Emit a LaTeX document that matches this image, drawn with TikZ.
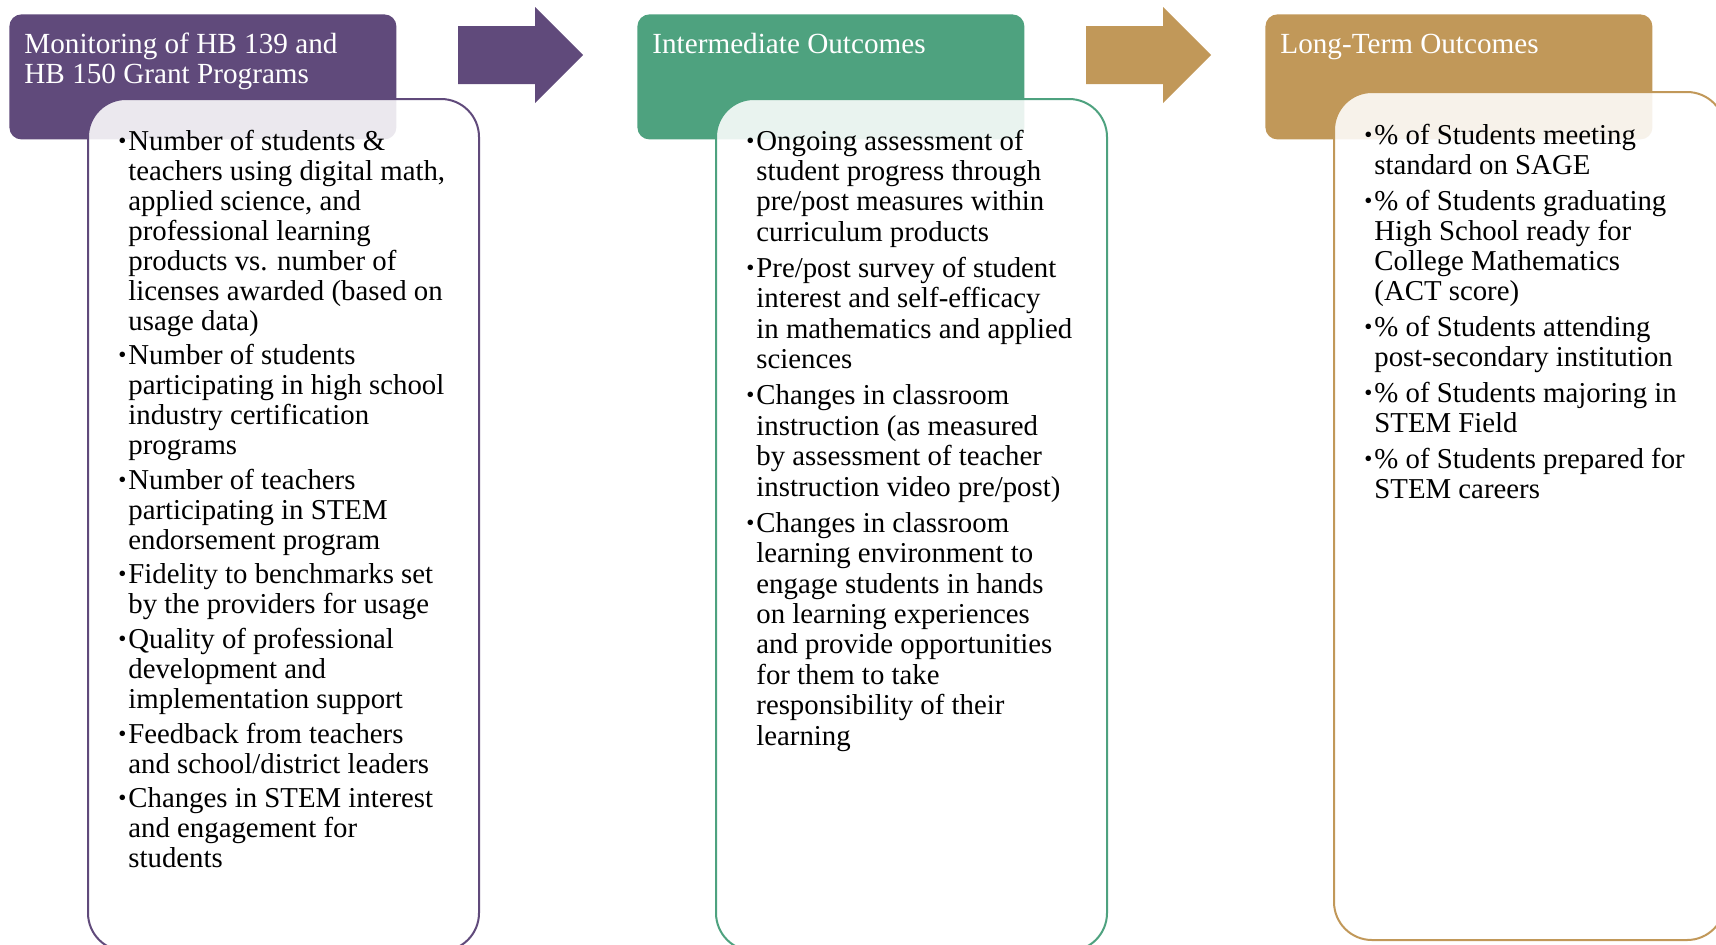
\documentclass[tikz,border=0pt]{standalone}
\usepackage{fontspec}
\setmainfont{Liberation Serif}
\usepackage{graphicx}
\usepackage{tikz}

\definecolor{hbpurple}{HTML}{604A7B}
\definecolor{hbgreen}{HTML}{4EA27F}
\definecolor{hbgold}{HTML}{C19859}

\tikzset{
  hdbox/.style={rectangle, rounded corners=6pt, fill=#1, minimum width=193.5pt,
    minimum height=62.5pt, anchor=north west, inner sep=0pt},
  bdbox/.style={rectangle, rounded corners=19pt, draw=#1, line width=1pt, fill=white,
    fill opacity=0.88, minimum width=195.5pt, minimum height=426pt, anchor=north west, inner sep=0pt},
  hdtext/.style={anchor=base west, inner sep=0pt, text=white, font=\fontsize{14.6}{15}\selectfont},
  listtext/.style={anchor=base west, inner sep=0pt, font=\fontsize{14.4}{15}\selectfont}
}
\newcommand{\bul}{\makebox[5pt][l]{\raisebox{1pt}{\scalebox{0.8}{\textbullet}}}}

\begin{document}
\begin{tikzpicture}[x=0.5pt,y=-0.5pt]
\useasboundingbox (0,0) rectangle (1716,944);

% header boxes
\node[hdbox=hbpurple] (h1) at (9,14) {};
\node[hdbox=hbgreen] (h2) at (637,14) {};
\node[hdbox=hbgold] (h3) at (1265,14) {};

\node[hdtext] (ht1) at (24,53) {\begin{tabular}[t]{@{}l@{}}
Monitoring of HB 139 and\\
HB 150 Grant Programs
\end{tabular}};
\node[hdtext] (ht2) at (652,53) {Intermediate Outcomes};
\node[hdtext] (ht3) at (1280,53) {Long-Term Outcomes};

% arrows
\foreach \x/\c in {458/hbpurple,1086/hbgold}
  \fill[\c] (\x,26) -- ++(77,0) -- ++(0,-19) -- ++(48,48) -- ++(-48,48) -- ++(0,-19) -- ++(-77,0) -- cycle;

% bodies
\node[bdbox=hbpurple] (b1) at (87,98) {};
\node[bdbox=hbgreen] (b2) at (715,98) {};
\node[bdbox=hbgold, minimum height=424pt] (b3) at (1333,91) {};

\node[listtext] (l1) at (118,150) {\begin{tabular}[t]{@{}l@{}l@{}}
\bul & Number of students \& \\
 & teachers using digital math, \\
 & applied science, and \\
 & professional learning \\
 & products vs. number of \\
 & licenses awarded (based on \\
 & usage data) \\[2.3pt]
\bul & Number of students \\
 & participating in high school \\
 & industry certification \\
 & programs \\[2.3pt]
\bul & Number of teachers \\
 & participating in STEM \\
 & endorsement program \\[2.3pt]
\bul & Fidelity to benchmarks set \\
 & by the providers for usage \\[2.3pt]
\bul & Quality of professional \\
 & development and \\
 & implementation support \\[2.3pt]
\bul & Feedback from teachers \\
 & and school/district leaders \\[2.3pt]
\bul & Changes in STEM interest \\
 & and engagement for \\
 & students
\end{tabular}};

\node[listtext, font=\fontsize{14.4}{15.2}\selectfont] (l2) at (746,150) {\begin{tabular}[t]{@{}l@{}l@{}}
\bul & Ongoing assessment of \\
 & student progress through \\
 & pre/post measures within \\
 & curriculum products \\[2.9pt]
\bul & Pre/post survey of student \\
 & interest and self-efficacy \\
 & in mathematics and applied \\
 & sciences \\[2.9pt]
\bul & Changes in classroom \\
 & instruction (as measured \\
 & by assessment of teacher \\
 & instruction video pre/post) \\[2.9pt]
\bul & Changes in classroom \\
 & learning environment to \\
 & engage students in hands \\
 & on learning experiences \\
 & and provide opportunities \\
 & for them to take \\
 & responsibility of their \\
 & learning
\end{tabular}};

\node[listtext, font=\fontsize{14.4}{15.1}\selectfont] (l3) at (1364,144) {\begin{tabular}[t]{@{}l@{}l@{}}
\bul & \% of Students meeting \\
 & standard on SAGE \\[2.8pt]
\bul & \% of Students graduating \\
 & High School ready for \\
 & College Mathematics \\
 & (ACT score) \\[2.8pt]
\bul & \% of Students attending \\
 & post-secondary institution \\[2.8pt]
\bul & \% of Students majoring in \\
 & STEM Field \\[2.8pt]
\bul & \% of Students prepared for \\
 & STEM careers
\end{tabular}};
\end{tikzpicture}
\end{document}
